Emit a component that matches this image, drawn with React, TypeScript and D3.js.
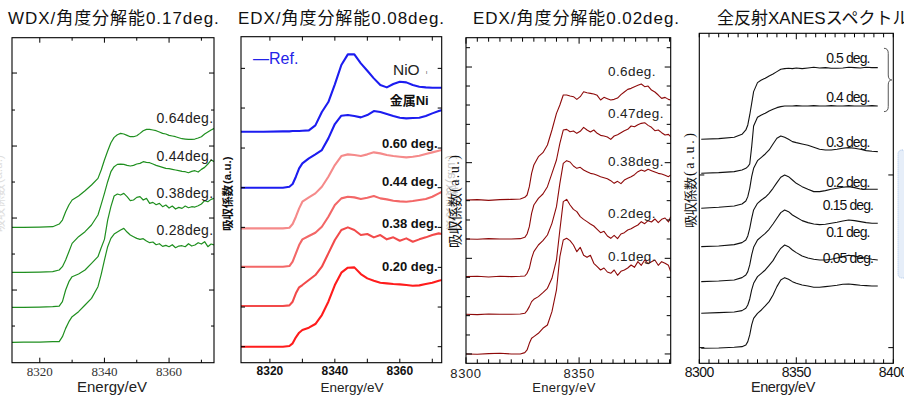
import React from 'react';
import * as d3 from 'd3';

// ---------- WDX, 0.17 deg resolution ----------
const wdxEnergy = [8311, 8315, 8320, 8324, 8326, 8327, 8328, 8329, 8330, 8332, 8334, 8336, 8338, 8339,
  8340, 8341, 8342, 8343, 8344, 8345, 8346, 8347, 8348, 8349, 8350, 8351, 8352, 8353, 8354, 8355, 8356, 8357,
  8358, 8359, 8360, 8361, 8362, 8363, 8364, 8365, 8366, 8367, 8368, 8369, 8370, 8371, 8372, 8373, 8374];
const wdx064 = [406, 406, 407, 408, 416, 428, 453, 473, 488, 500, 516, 533, 553, 578,
  608, 635, 660, 676, 684, 688, 686, 682, 678, 678, 681, 688, 696, 700, 700, 698, 696, 692,
  688, 686, 682, 680, 678, 675, 672, 671, 670, 670, 671, 674, 678, 686, 692, 698, 703];
const wdx044 = [271, 271, 272, 273, 278, 288, 308, 333, 358, 378, 393, 413, 443, 475,
  508, 543, 573, 588, 595, 596, 595, 592, 590, 592, 596, 598, 603, 601, 600, 596, 592, 589,
  586, 583, 582, 580, 578, 576, 574, 573, 570, 574, 576, 572, 580, 586, 596, 608, 603];
const wdx038 = [166, 166, 167, 168, 170, 183, 218, 243, 258, 266, 278, 298, 318, 345,
  370, 428, 468, 500, 506, 503, 508, 498, 486, 488, 496, 498, 488, 493, 478, 481, 474, 478,
  468, 473, 464, 470, 461, 466, 463, 470, 465, 468, 467, 471, 476, 486, 483, 490, 493];
const wdx028 = [61, 62, 62, 63, 63, 78, 103, 123, 138, 153, 173, 193, 228, 265,
  308, 348, 373, 386, 392, 398, 403, 392, 383, 378, 373, 370, 372, 365, 360, 362, 354, 357,
  349, 352, 348, 354, 345, 350, 351, 348, 357, 350, 353, 360, 356, 363, 348, 356, 353];

// ---------- EDX, 0.08 deg resolution ----------
const edx8Energy = [8311, 8318, 8324, 8326, 8327, 8328, 8329, 8330, 8332, 8334, 8336, 8338, 8340, 8342, 8344, 8346, 8348, 8350, 8352, 8354, 8356, 8358, 8360, 8362, 8364, 8366, 8368, 8370, 8372, 8373];
const refNiO = [693, 693, 694, 694, 695, 695, 695, 696, 697, 712, 752, 782, 835, 893, 925, 925, 898, 876, 853, 833, 826, 836, 843, 841, 833, 828, 826, 825, 825, 825];
const refNi = [525, 525, 525, 528, 536, 558, 583, 598, 613, 625, 638, 673, 716, 741, 743, 740, 736, 743, 755, 752, 746, 740, 735, 733, 734, 735, 740, 748, 755, 758];
const edx8060 = [403, 403, 403, 405, 416, 438, 463, 483, 496, 508, 528, 558, 593, 620, 625, 623, 620, 625, 631, 628, 623, 620, 618, 616, 618, 621, 626, 631, 636, 638];
const edx8044 = [288, 288, 288, 290, 303, 328, 353, 370, 380, 390, 408, 438, 473, 493, 498, 496, 491, 495, 500, 493, 490, 486, 484, 483, 485, 488, 491, 498, 508, 513];
const edx8038 = [170, 170, 170, 172, 183, 208, 226, 233, 248, 263, 288, 328, 368, 398, 406, 398, 383, 386, 376, 383, 370, 376, 366, 373, 363, 370, 376, 383, 388, 386];
const edx8020 = [48, 48, 48, 50, 58, 76, 90, 98, 105, 116, 143, 183, 233, 270, 285, 286, 266, 253, 246, 240, 238, 236, 235, 233, 231, 232, 236, 240, 246, 248];

// ---------- EDX, 0.02 deg resolution ----------
const edx2Energy = [8300, 8305, 8310, 8315, 8320, 8324, 8326, 8327, 8328, 8329, 8330, 8332, 8334, 8336, 8338, 8340, 8341.5,
  8343, 8344.5, 8346, 8347.5, 8349, 8350.5, 8352, 8353.5, 8355, 8356.5, 8358, 8359.5, 8361, 8362.5, 8364, 8365.5, 8367,
  8368.5, 8370, 8371.5, 8373, 8374.5, 8376, 8377.5, 8379, 8380.5, 8382, 8383.5, 8385, 8386.5, 8388, 8389.5, 8390.5];
const edx206 = [490, 491, 489, 491, 492, 493, 498, 505, 530, 570, 595, 620, 632, 655, 700, 750, 775,
  805, 805, 802, 800, 792, 800, 815, 812, 810, 808, 804, 790, 798, 794, 790, 792, 796,
  806, 814, 822, 825, 830, 834, 838, 830, 832, 820, 814, 805, 795, 798, 792, 790];
const edx2047 = [373, 372, 374, 373, 373, 374, 378, 388, 410, 450, 475, 495, 508, 530, 570, 610, 660,
  700, 702, 695, 697, 690, 696, 708, 700, 694, 700, 690, 684, 682, 679, 672, 682, 686,
  692, 698, 702, 712, 710, 716, 720, 722, 714, 708, 698, 700, 692, 685, 687, 680];
const edx2038 = [260, 261, 259, 261, 260, 261, 262, 270, 285, 315, 335, 355, 368, 385, 420, 470, 540,
  600, 608, 604, 592, 585, 588, 580, 575, 570, 568, 564, 560, 557, 554, 548, 540, 546,
  539, 550, 555, 560, 566, 575, 580, 576, 582, 578, 574, 570, 568, 564, 560, 565];
const edx202 = [147, 146, 148, 147, 147, 148, 150, 158, 170, 185, 192, 200, 212, 225, 255, 310, 400,
  485, 492, 475, 462, 455, 440, 432, 425, 418, 412, 402, 392, 396, 382, 375, 384, 374,
  388, 392, 400, 404, 410, 415, 425, 419, 428, 424, 433, 422, 432, 436, 424, 440];
const edx201 = [28, 27, 29, 30, 28, 28, 32, 40, 60, 75, 80, 90, 105, 115, 155, 220, 320,
  370, 375, 368, 355, 335, 348, 324, 318, 324, 300, 290, 280, 286, 274, 270, 280, 264,
  276, 280, 286, 295, 288, 305, 294, 310, 299, 305, 310, 294, 305, 300, 294, 275];

// ---------- total reflection XANES ----------
const xanesEnergy = [8301, 8310, 8318, 8322, 8324, 8325, 8326, 8327, 8328, 8330, 8332, 8334, 8336, 8338, 8340, 8342, 8344, 8346, 8348, 8350, 8353, 8356, 8359, 8362, 8365, 8368, 8371, 8374, 8377, 8380, 8383, 8386, 8389, 8392];
const xa05 = [672, 674, 678, 687, 700, 715, 745, 780, 815, 842, 850, 855, 862, 868, 875, 882, 884, 885, 884, 886, 884, 886, 888, 886, 887, 885, 885, 886, 888, 887, 886, 888, 887, 887];
const xa04 = [570, 572, 575, 580, 585, 590, 598, 650, 712, 738, 745, 750, 757, 762, 767, 770, 772, 772, 772, 773, 772, 772, 773, 772, 772, 773, 772, 772, 773, 772, 772, 772, 773, 772];
const xa03 = [465, 468, 472, 478, 487, 500, 525, 560, 585, 608, 618, 628, 640, 658, 675, 682, 678, 672, 665, 662, 658, 654, 648, 642, 640, 640, 642, 645, 647, 645, 642, 638, 636, 635];
const xa02 = [350, 352, 356, 362, 370, 382, 405, 435, 460, 480, 490, 498, 510, 525, 542, 558, 565, 560, 550, 540, 530, 522, 515, 515, 518, 522, 525, 528, 530, 527, 523, 522, 522, 522];
const xa015 = [245, 247, 250, 257, 265, 275, 295, 325, 348, 370, 380, 390, 402, 418, 435, 452, 460, 455, 445, 438, 428, 422, 418, 416, 417, 420, 423, 427, 430, 428, 425, 422, 420, 420];
const xa01 = [150, 152, 154, 158, 165, 175, 193, 220, 240, 260, 270, 280, 294, 308, 328, 345, 355, 350, 340, 332, 322, 316, 312, 310, 310, 312, 316, 320, 324, 322, 318, 315, 312, 310];
const xa005 = [45, 46, 48, 50, 55, 65, 85, 115, 135, 150, 160, 172, 185, 205, 230, 250, 257, 252, 245, 240, 235, 232, 228, 228, 230, 232, 234, 237, 238, 236, 234, 233, 232, 232];

// ---------- text ----------
const titles = ['WDX/角度分解能0.17deg.', 'EDX/角度分解能0.08deg.', 'EDX/角度分解能0.02deg.', '全反射XANESスペクトル'];
const wdxLabels = ['0.64deg.', '0.44deg.', '0.38deg.', '0.28deg.'];
const edx8Labels = ['0.60 deg.', '0.44 deg.', '0.38 deg.', '0.20 deg.'];
const refLabels = ['—Ref.', 'NiO', '金属Ni'];
const edx2Labels = ['0.6deg.', '0.47deg.', '0.38deg.', '0.2deg.', '0.1deg.'];
const xanesLabels = ['0.5 deg.', '0.4 deg.', '0.3 deg.', '0.2 deg.', '0.15 deg.', '0.1 deg.', '0.05 deg.'];
const wdxTickLabels = ['8320', '8340', '8360'];
const edx8TickLabels = ['8320', '8340', '8360'];
const edx2TickLabels = ['8300', '8350'];
const xanesTickLabels = ['8300', '8350', '8400'];
const xLabel = 'Energy/eV';
const yLabelJa = '吸収係数';
const yLabelUnit = '(a.u.)';

const SANS = "'Liberation Sans', Arial, 'Noto Sans CJK JP', sans-serif";
const NARROW = "'Liberation Sans Narrow', 'Arial Narrow', 'Liberation Sans', 'Noto Sans CJK JP', sans-serif";
const SERIF = "'Liberation Serif', 'Times New Roman', serif";
const CJK = "'Noto Sans CJK JP', sans-serif";

type Tick = { v: number; len: number };
type Label = { text: string; e: number; v: number; anchor?: string; fill?: string; size: number; weight?: string; family?: string; spacing?: number };

type Spec = {
  id: string;
  box: [number, number, number, number];
  xDomain: [number, number];
  yDomain: [number, number];
  energy: number[];
  series: { values: number[]; color: string }[];
  lineWidth: number;
  xTicks: Tick[];
  yTicks: Tick[];
  tickLabels: string[];
  tickStyle: { family: string; size: number; weight?: string; fill: string; baseline: number; spacing?: number };
  title: string;
  titleX: number;
  titleSpacing: number;
  axisX: number;
  axisStyle: { family: string; size: number; spacing?: number };
  labels: Label[];
};

const mkTicks = (vals: number[], longSet: number[], long: number, short: number): Tick[] =>
  vals.map(v => ({ v, len: longSet.includes(v) ? long : short }));

const specs: Spec[] = [
  {
    id: 'wdx',
    box: [12, 37.7, 214, 362.7],
    xDomain: [8311.4, 8373.9],
    yDomain: [0, 975],
    energy: wdxEnergy,
    series: [wdx064, wdx044, wdx038, wdx028].map(values => ({ values, color: '#1f8f1f' })),
    lineWidth: 1.2,
    xTicks: mkTicks(d3.range(8320, 8371, 10), [8320, 8340, 8360], 5, 3),
    yTicks: mkTicks([110, 218, 326, 434, 542, 650, 758, 869], [218, 434, 650, 869], 5, 3),
    tickLabels: wdxTickLabels,
    tickStyle: { family: SERIF, size: 13, fill: '#333', baseline: 376 },
    title: titles[0],
    titleX: 8,
    titleSpacing: 0.95,
    axisX: 112,
    axisStyle: { family: SANS, size: 15 },
    labels: wdxLabels.map((text, i) => ({ text, e: 8373.7, v: [719, 605, 494, 383][i], anchor: 'end', size: 14, fill: '#222', spacing: 0.3 })),
  },
  {
    id: 'edx8',
    box: [241, 36.7, 441.7, 362.7],
    xDomain: [8311.1, 8372.9],
    yDomain: [0, 978],
    energy: edx8Energy,
    series: [
      { values: refNiO, color: '#1c1cf0' },
      { values: refNi, color: '#1c1cf0' },
      { values: edx8060, color: '#f58a8a' },
      { values: edx8044, color: '#f36767' },
      { values: edx8038, color: '#f24a4a' },
      { values: edx8020, color: '#ff1c1c' },
    ],
    lineWidth: 2.1,
    xTicks: mkTicks(d3.range(8320, 8371, 10), [], 4, 4),
    yTicks: mkTicks([48, 167, 286, 406, 525, 644, 764, 883], [], 4, 4),
    tickLabels: edx8TickLabels,
    tickStyle: { family: SANS, size: 12, weight: '600', fill: '#111', baseline: 375 },
    title: titles[1],
    titleX: 238,
    titleSpacing: 0.95,
    axisX: 352,
    axisStyle: { family: SANS, size: 13.5 },
    labels: [
      { text: refLabels[0], e: 8314.8, v: 896, size: 16, fill: '#2323e8' },
      { text: refLabels[1], e: 8357.9, v: 863, size: 15.5, fill: '#222' },
      { text: 'ı', e: 8368, v: 866, size: 6, fill: '#444' },
      { text: refLabels[2], e: 8356.9, v: 773, size: 13, weight: 'bold', fill: '#111' },
      ...edx8Labels.map((text, i) => ({ text, e: 8354.5, v: [644, 530, 404, 275][i], size: 13, weight: 'bold', fill: '#111' })),
    ],
  },
  {
    id: 'edx2',
    box: [466, 37.7, 670.7, 363.3],
    xDomain: [8300, 8390.5],
    yDomain: [0, 977],
    energy: edx2Energy,
    series: [edx206, edx2047, edx2038, edx202, edx201].map(values => ({ values, color: '#8e0a0a' })),
    lineWidth: 1.1,
    xTicks: mkTicks(d3.range(8300, 8391, 5), [8300, 8350], 6, 4),
    yTicks: mkTicks([28, 85, 143, 200, 258, 315, 373, 430, 488, 545, 602, 660, 717, 775, 832, 889, 947], [28, 315, 602, 889], 6, 4),
    tickLabels: edx2TickLabels,
    tickStyle: { family: SANS, size: 13, fill: '#222', baseline: 378, spacing: 0.6 },
    title: titles[2],
    titleX: 473,
    titleSpacing: 0.95,
    axisX: 564,
    axisStyle: { family: SANS, size: 13, spacing: 0.3 },
    labels: edx2Labels.map((text, i) => ({ text, e: 8362.8, v: [862, 736, 592, 436, 307][i], size: 13.5, fill: '#222', spacing: 0.4 })),
  },
  {
    id: 'xanes',
    box: [699.3, 33.3, 893.3, 363.3],
    xDomain: [8300, 8400],
    yDomain: [0, 990],
    energy: xanesEnergy,
    series: [xa05, xa04, xa03, xa02, xa015, xa01, xa005].map(values => ({ values, color: '#111' })),
    lineWidth: 1.1,
    xTicks: mkTicks(d3.range(8300, 8401, 5), [8350], 6, 4),
    yTicks: mkTicks([47, 565], [], 5, 5),
    tickLabels: xanesTickLabels,
    tickStyle: { family: NARROW, size: 14, fill: '#111', baseline: 377, spacing: -0.5 },
    title: titles[3],
    titleX: 717,
    titleSpacing: 0,
    axisX: 783,
    axisStyle: { family: NARROW, size: 14.5, spacing: -0.4 },
    labels: xanesLabels.map((text, i) => ({ text, e: 8376.6, v: [901, 785, 650, 530, 460, 379, 301][i], anchor: 'middle', size: 14, fill: '#111', family: NARROW, spacing: -0.9 })),
  },
];

function Panel({ spec }: { spec: Spec }) {
  const [l, t, r, b] = spec.box;
  const x = d3.scaleLinear().domain(spec.xDomain).range([l, r]);
  const y = d3.scaleLinear().domain(spec.yDomain).range([b, t]);
  const line = d3.line<number>().x((_, i) => x(spec.energy[i])).y(d => y(d));
  const ts = spec.tickStyle;
  return (
    <g>
      <clipPath id={`clip-${spec.id}`}>
        <rect x={l} y={t} width={r - l} height={b - t} />
      </clipPath>
      <g clipPath={`url(#clip-${spec.id})`}>
        {spec.series.map((s, i) => (
          <path key={i} d={line(s.values) || ''} fill="none" stroke={s.color} strokeWidth={spec.lineWidth} strokeLinejoin="round" />
        ))}
      </g>
      <rect x={l} y={t} width={r - l} height={b - t} fill="none" stroke="#000" strokeWidth={1.1} />
      {spec.xTicks.map((tk, i) => (
        <g key={`x${i}`} stroke="#000" strokeWidth={1}>
          <line x1={x(tk.v)} x2={x(tk.v)} y1={b} y2={b - tk.len} />
          <line x1={x(tk.v)} x2={x(tk.v)} y1={t} y2={t + tk.len} />
        </g>
      ))}
      {spec.yTicks.map((tk, i) => (
        <g key={`y${i}`} stroke="#000" strokeWidth={1}>
          <line x1={l} x2={l + tk.len} y1={y(tk.v)} y2={y(tk.v)} />
          <line x1={r} x2={r - tk.len} y1={y(tk.v)} y2={y(tk.v)} />
        </g>
      ))}
      {spec.tickLabels.map(lbl => (
        <text key={lbl} x={x(+lbl)} y={ts.baseline} textAnchor="middle" fontFamily={ts.family} fontSize={ts.size}
          fontWeight={ts.weight} fill={ts.fill} letterSpacing={ts.spacing}>{lbl}</text>
      ))}
      <text x={spec.axisX} y={392} textAnchor="middle" fontFamily={spec.axisStyle.family} fontSize={spec.axisStyle.size}
        letterSpacing={spec.axisStyle.spacing} fill="#222">{xLabel}</text>
      <text x={spec.titleX} y={24} fontFamily={SANS} fontSize={17} letterSpacing={spec.titleSpacing} fill="#111">{spec.title}</text>
      {spec.labels.map((lb, i) => (
        <text key={i} x={x(lb.e)} y={y(lb.v)} textAnchor={lb.anchor || 'start'} fontFamily={lb.family || SANS}
          fontSize={lb.size} fontWeight={lb.weight} fill={lb.fill} letterSpacing={lb.spacing}>{lb.text}</text>
      ))}
    </g>
  );
}

// rotated axis title: the Japanese part reads upward from `bottom`, the unit follows above it
type YLabelProps = { cx: number; bottom: number; size: number; cjkLen?: number; unitSize: number; unitLen?: number; weight?: string; unitFamily: string; fill: string };

function YLabel({ cx, bottom, size, cjkLen, unitSize, unitLen, weight, unitFamily, fill }: YLabelProps) {
  const cj = cjkLen || size * 4;
  return (
    <g transform={`translate(${cx},${bottom}) rotate(-90)`} fill={fill} fontWeight={weight}>
      <text x={0} y={0} dominantBaseline="central" fontFamily={CJK} fontSize={size}
        textLength={cjkLen} lengthAdjust={cjkLen ? 'spacing' : undefined}>{yLabelJa}</text>
      <text x={cj + 1} y={0} dominantBaseline="central" fontFamily={unitFamily} fontSize={unitSize}
        textLength={unitLen} lengthAdjust={unitLen ? 'spacing' : undefined}>{yLabelUnit}</text>
    </g>
  );
}

export default function App() {
  const xs = specs[3];
  const bx = d3.scaleLinear().domain(xs.xDomain).range([xs.box[0], xs.box[2]]);
  const by = d3.scaleLinear().domain(xs.yDomain).range([xs.box[3], xs.box[1]]);
  const bracket = `M${bx(8395.2)},${by(945)} Q${bx(8397.4)},${by(945)} ${bx(8397.4)},${by(930)} L${bx(8397.4)},${by(865)} Q${bx(8397.4)},${by(850)} ${bx(8399.2)},${by(850)} Q${bx(8397.4)},${by(850)} ${bx(8397.4)},${by(835)} L${bx(8397.4)},${by(770)} Q${bx(8397.4)},${by(755)} ${bx(8395.2)},${by(755)}`;
  return (
    <svg width={904} height={397} viewBox="0 0 904 397" style={{ position: 'absolute', left: 0, top: 0, background: '#fff' }}>
      <rect width={904} height={397} fill="#fff" />
      {/* faint ghost labels from the underlying slide */}
      <YLabel cx={-2} bottom={232} size={12} unitSize={12} unitFamily={SANS} fill="#dedede" />
      <g transform="translate(452,0) scale(-1,1)">
        <YLabel cx={0} bottom={232} size={12} unitSize={12} unitFamily={SANS} fill="#c8c8c8" />
      </g>
      <rect x={898} y={150} width={12} height={128} rx={4} fill="#e6eef9" stroke="#a9c4e8" strokeDasharray="1,1" />
      {specs.map(s => <Panel key={s.id} spec={s} />)}
      <YLabel cx={227} bottom={231} size={11.5} unitSize={11.5} weight="bold" unitFamily={SANS} fill="#111" />
      <YLabel cx={454} bottom={248} size={14} cjkLen={55} unitSize={14} unitLen={37} unitFamily={SERIF} fill="#111" />
      <YLabel cx={689} bottom={228} size={13} cjkLen={51} unitSize={14} unitLen={43} unitFamily={SERIF} fill="#111" />
      <path d={bracket} fill="none" stroke="#555" strokeWidth={1} />
    </svg>
  );
}
